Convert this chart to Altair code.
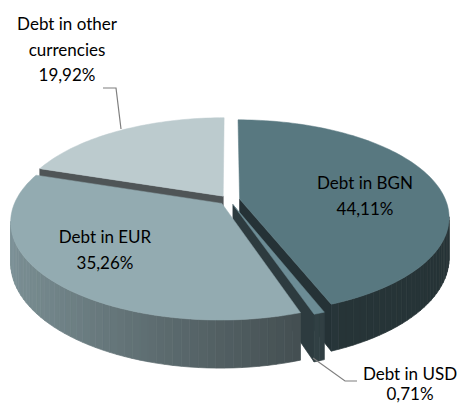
import math
import altair as alt
import pandas as pd

# ---------------- data ----------------
categories = ["Debt in BGN", "Debt in USD", "Debt in EUR", "Debt in other currencies"]
shares = [44.11, 0.71, 35.26, 19.92]
label_lines = [["Debt in BGN", "44,11%"],
               ["Debt in USD", "0,71%"],
               ["Debt in EUR", "35,26%"],
               ["Debt in other", "currencies", "19,92%"]]

# ---------------- style / layout ----------------
top_colors = ["#587880", "#6C8C95", "#93ABB1", "#BCCBCE"]
CX, CY = 229.3, 200.0      # projected centre of the pie (page pixels)
RX, A = 206.0, 94.0        # horizontal radius / vertical scale
B = 0.182                  # perspective strength
DEPTH = 39.0
EXPLODE = 0.051            # explosion distance (fraction of radius)
W, H = 453, 397
label_pos = [(365, 184), (410, 375), (105, 238), (67, 25)]
line_gap = [26, 20, 26, 25.5]
leader_usd = [(313, 358), (345, 381), (357, 381)]
leader_other = [(103, 88), (116, 88), (121, 129)]


def hex2rgb(h):
    h = h.lstrip("#")
    return [int(h[i:i + 2], 16) for i in (0, 2, 4)]


def shade(h, f):
    r, g, b = hex2rgb(h)
    return "#%02x%02x%02x" % tuple(max(0, min(255, int(round(c * f)))) for c in (r, g, b))


total = sum(shares)
starts, ends, offs = [], [], []
acc = 0.0
for s in shares:
    a0 = acc / total * 360.0
    acc += s
    a1 = acc / total * 360.0
    mid = math.radians((a0 + a1) / 2)
    starts.append(a0)
    ends.append(a1)
    offs.append((EXPLODE * math.sin(mid), -EXPLODE * math.cos(mid)))


def proj(u, w, dz=0.0):
    s = 1.0 / (1.0 - B * w)
    return (CX + RX * u * s, CY + A * w * s + dz * s)


def rim(theta, off, dz=0.0):
    t = math.radians(theta)
    return proj(math.sin(t) + off[0], -math.cos(t) + off[1], dz)


def centre(off, dz=0.0):
    return proj(off[0], off[1], dz)


def wall_factor(theta):
    s = math.sin(math.radians(theta))
    f = 0.86 - 0.41 * (s + 1) / 1.35
    return max(0.43, f)


rows = []
pid = 0


def add_poly(pts, color):
    global pid
    pts = list(pts) + [pts[0]]
    for j, (x, y) in enumerate(pts):
        rows.append({"pid": "p%04d" % pid, "i": j, "x": x, "y": y, "fill": color})
    pid += 1


# radial cut faces first
for k in range(len(shares)):
    a0, a1, off = starts[k], ends[k], offs[k]
    base = top_colors[k]
    for a, vis in ((a0, math.sin(math.radians(a0)) < -1e-6),
                   (a1, math.sin(math.radians(a1)) > 1e-6)):
        if vis:
            add_poly([centre(off), rim(a, off), rim(a, off, DEPTH), centre(off, DEPTH)],
                     shade(base, 0.42))

# outer walls (front half only)
lim = math.degrees(math.asin(B))
for k in range(len(shares)):
    a0, a1, off = max(starts[k], 90.0 + lim), min(ends[k], 270.0 - lim), offs[k]
    if a1 <= a0:
        continue
    n = max(1, int(math.ceil((a1 - a0) / 2.0)))
    for j in range(n):
        t0 = a0 + (a1 - a0) * j / n
        t1 = a0 + (a1 - a0) * (j + 1) / n
        col = shade(top_colors[k], wall_factor((t0 + t1) / 2))
        add_poly([rim(t0, off), rim(t1, off), rim(t1, off, DEPTH), rim(t0, off, DEPTH)], col)

side_df = pd.DataFrame(rows)

# top faces
top_rows = []
for k in range(len(shares)):
    a0, a1, off = starts[k], ends[k], offs[k]
    c = centre(off)
    n = max(2, int(math.ceil((a1 - a0) / 1.5)))
    pts = [c] + [rim(a0 + (a1 - a0) * j / n, off) for j in range(n + 1)] + [c]
    for j, (x, y) in enumerate(pts):
        top_rows.append({"cat": categories[k], "i": j, "x": x, "y": y})
top_df = pd.DataFrame(top_rows)

# labels
lab_rows = []
for k in range(len(shares)):
    x0, y0 = label_pos[k]
    for j, txt in enumerate(label_lines[k]):
        lab_rows.append({"text": txt, "x": x0, "y": y0 + j * line_gap[k]})
lab_df = pd.DataFrame(lab_rows)

lead_rows = []
for name, pts in (("usd", leader_usd), ("other", leader_other)):
    for j, (x, y) in enumerate(pts):
        lead_rows.append({"g": name, "i": j, "x": x, "y": y})
lead_df = pd.DataFrame(lead_rows)

xs = alt.Scale(domain=[8, 8 + W], nice=False, zero=False)
ys = alt.Scale(domain=[8, 8 + H], nice=False, zero=False, reverse=True)
X = alt.X("x:Q", scale=xs, axis=None)
Y = alt.Y("y:Q", scale=ys, axis=None)

sides = alt.Chart(side_df).mark_line(strokeWidth=0.7, interpolate="linear").encode(
    x=X, y=Y,
    detail="pid:N",
    order="i:Q",
    fill=alt.Fill("fill:N", scale=None),
    stroke=alt.Stroke("fill:N", scale=None),
)

cscale = alt.Scale(domain=categories, range=top_colors)
tops = alt.Chart(top_df).mark_line(strokeWidth=0.5, interpolate="linear").encode(
    x=X, y=Y,
    detail="cat:N",
    order="i:Q",
    fill=alt.Fill("cat:N", scale=cscale, legend=None),
    stroke=alt.Stroke("cat:N", scale=cscale, legend=None),
)

leaders = alt.Chart(lead_df).mark_line(color="#7f7f7f", strokeWidth=1.2).encode(
    x=X, y=Y, detail="g:N", order="i:Q"
)

labels = alt.Chart(lab_df).mark_text(font="Lato", fontSize=17, color="#000000",
                                     baseline="middle", align="center").encode(
    x=X, y=Y, text="text:N"
)

chart = alt.layer(sides, tops, leaders, labels).properties(
    width=W, height=H, padding=0, autosize=alt.AutoSizeParams(type="none")
).configure_view(stroke=None)

chart.save("out.html", embed_options={"renderer": "svg", "actions": False})
